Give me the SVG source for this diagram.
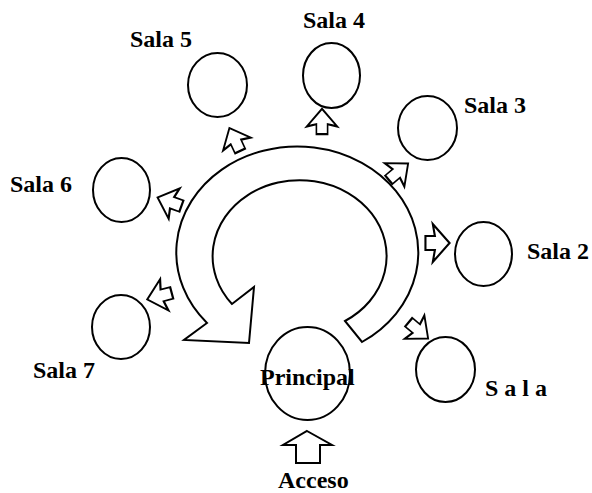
<svg xmlns="http://www.w3.org/2000/svg" width="592" height="493" viewBox="0 0 592 493">
<style>
.sh{fill:#fff;stroke:#000;stroke-width:2;stroke-linejoin:miter}
.lb{font-family:"Liberation Serif","Times New Roman",serif;font-weight:bold;font-size:24px;fill:#000}
</style>
<defs>
<polygon id="ar" points="-11,-7 -2,-7 -4,-19 12,0 -4,19 -2,7 -11,7"/>
</defs>
<rect width="592" height="493" fill="#fff"/>
<g id="connectors">
<path id="ring" class="sh" d="M362,342 A121,106 0 1 0 207,323 L184,340 L249,343 L254,287 L232,304 A87,76 0 1 1 345,321 Z"/>
<use href="#ar" class="sh" transform="translate(322,122) rotate(-90) scale(1.1,0.8)"/>
<use href="#ar" class="sh" transform="translate(235,140) rotate(-115) scale(1.1,0.8)"/>
<use href="#ar" class="sh" transform="translate(398,172) rotate(-40) scale(1.1,0.8)"/>
<use href="#ar" class="sh" transform="translate(437,243) scale(1.05,1)"/>
<use href="#ar" class="sh" transform="translate(418,330) rotate(40) scale(1.1,0.8)"/>
<use href="#ar" class="sh" transform="translate(170,202) rotate(-160) scale(1.1,0.85)"/>
<use href="#ar" class="sh" transform="translate(160,296) rotate(165) scale(1.1,0.85)"/>
<polygon id="acceso-arrow" class="sh" points="307,431 332,445 320,445 320,463 296,463 296,445 283,445"/>
</g>
<g id="sala5"><ellipse class="sh" cx="217.5" cy="85" rx="29.5" ry="32"/><text class="lb" x="130" y="47">Sala 5</text></g>
<g id="sala4"><ellipse class="sh" cx="331.5" cy="75.5" rx="28.5" ry="32.5"/><text class="lb" x="303" y="28">Sala 4</text></g>
<g id="sala3"><ellipse class="sh" cx="427.5" cy="128" rx="29.5" ry="32"/><text class="lb" x="464" y="113">Sala 3</text></g>
<g id="sala6"><ellipse class="sh" cx="121.5" cy="190" rx="28.5" ry="32"/><text class="lb" x="10" y="192">Sala 6</text></g>
<g id="sala2"><ellipse class="sh" cx="483.5" cy="254" rx="28.5" ry="32"/><text class="lb" x="527" y="259">Sala 2</text></g>
<g id="sala7"><ellipse class="sh" cx="121" cy="327" rx="29" ry="32"/><text class="lb" x="33" y="378">Sala 7</text></g>
<g id="sala1"><ellipse class="sh" cx="445.5" cy="369.5" rx="29.5" ry="32.5"/><text class="lb" x="485" y="396">S a l a</text></g>
<g id="principal"><ellipse class="sh" cx="307.5" cy="373.5" rx="42.5" ry="46.5"/><text class="lb" x="260" y="385">Principal</text></g>
<g id="acceso"><text class="lb" x="278" y="488">Acceso</text></g>
</svg>
